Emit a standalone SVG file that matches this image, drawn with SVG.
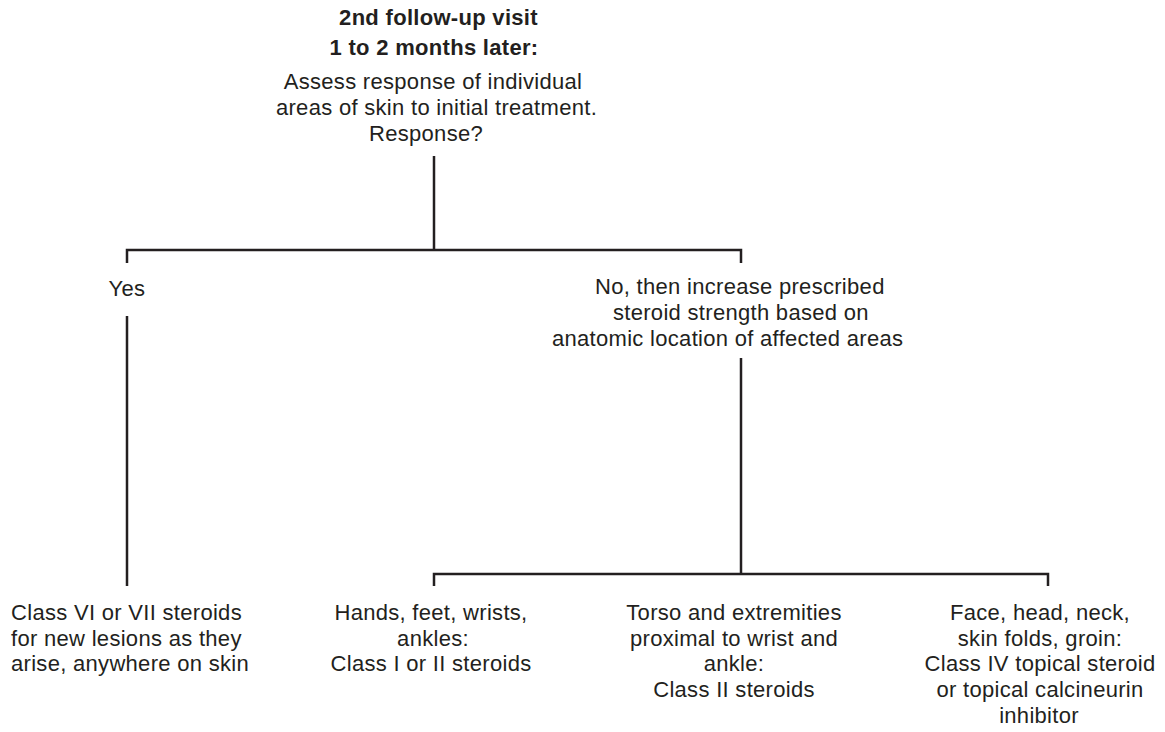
<svg xmlns="http://www.w3.org/2000/svg" width="1165" height="732" viewBox="0 0 1165 732">
<style>
text{font-family:"Liberation Sans",Arial,sans-serif;font-size:22px;letter-spacing:0.3px;fill:#231f20}
.b{font-weight:bold}
.c{text-anchor:middle}
.ln{stroke:#231f20;stroke-width:2.5;fill:none}
</style>
<rect width="1165" height="732" fill="#fff"/>
<g id="top">
<text class="b c" x="438.5" y="25">2nd follow-up visit</text>
<text class="b c" x="434" y="55">1 to 2 months later:</text>
<text class="c" x="433" y="89">Assess response of individual</text>
<text class="c" x="436.5" y="115">areas of skin to initial treatment.</text>
<text class="c" x="426" y="141">Response?</text>
</g>
<g id="yes">
<text class="c" x="127" y="296">Yes</text>
</g>
<g id="no">
<text x="595" y="294">No, then increase prescribed</text>
<text x="613" y="320">steroid strength based on</text>
<text x="552" y="346">anatomic location of affected areas</text>
</g>
<g id="classVI">
<text x="11" y="620">Class VI or VII steroids</text>
<text x="11" y="646">for new lesions as they</text>
<text x="11" y="671">arise, anywhere on skin</text>
</g>
<g id="hands">
<text class="c" x="431" y="620">Hands, feet, wrists,</text>
<text class="c" x="433" y="646">ankles:</text>
<text class="c" x="431" y="671">Class I or II steroids</text>
</g>
<g id="torso">
<text class="c" x="734" y="620">Torso and extremities</text>
<text class="c" x="734" y="646">proximal to wrist and</text>
<text class="c" x="734" y="671">ankle:</text>
<text class="c" x="734" y="697">Class II steroids</text>
</g>
<g id="face">
<text class="c" x="1040" y="620">Face, head, neck,</text>
<text class="c" x="1040" y="646">skin folds, groin:</text>
<text class="c" x="1040" y="671">Class IV topical steroid</text>
<text class="c" x="1040" y="697">or topical calcineurin</text>
<text class="c" x="1039" y="723">inhibitor</text>
</g>
<g id="connectors">
<path class="ln" d="M434 156V250"/>
<path class="ln" d="M127 263V250H741V263"/>
<path class="ln" d="M127 316V586"/>
<path class="ln" d="M741 358V574"/>
<path class="ln" d="M434 586V574H1048V586"/>
</g>
</svg>
